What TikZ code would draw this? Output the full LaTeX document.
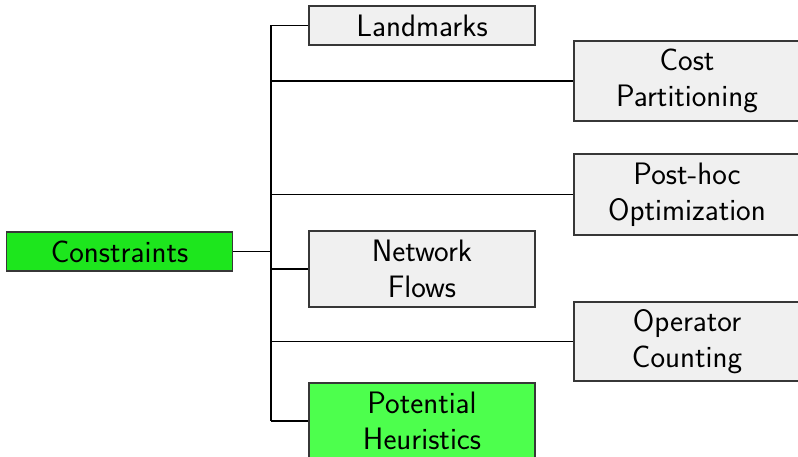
\documentclass[tikz,border=0pt]{standalone}
\usepackage{tikz}
\definecolor{rootgreen}{RGB}{29,230,29}
\definecolor{leafgreen}{RGB}{77,255,77}
\definecolor{boxgray}{RGB}{240,240,240}
\definecolor{edgegray}{RGB}{55,55,55}

\begin{document}
\begin{tikzpicture}[x = 1pt, y = -1pt,
	box/.style = {draw = edgegray, fill = boxgray, line width = 1.2pt, minimum width = 226pt, align = center, inner sep = 0pt, font = \sffamily\fontsize{31}{36}\selectfont},
	link/.style = {line width = 1.2pt, black}]
	\clip (0, 0) rectangle (798, 457);
	\useasboundingbox (0, 0) rectangle (798, 457);

	\node[box, fill = rootgreen, minimum height = 39pt] (constraints) at (119.5, 251.5) {Constraints};
	\node[box, minimum height = 39pt] (landmarks) at (422, 25.5) {Landmarks};
	\node[box, minimum height = 80pt] (cost) at (687, 81) {Cost\\Partitioning};
	\node[box, minimum height = 81pt] (posthoc) at (687, 194.5) {Post-hoc\\Optimization};
	\node[box, minimum height = 76pt] (flows) at (422, 269) {Network\\Flows};
	\node[box, minimum height = 79pt] (opcount) at (687, 341.5) {Operator\\Counting};
	\node[box, fill = leafgreen, minimum height = 76pt] (potential) at (422, 421) {Potential\\Heuristics};

	\coordinate (trunk) at (271, 251.5);
	\draw[link] (constraints) -- (trunk);
	\draw[link] (trunk |- landmarks.west) -- (trunk |- potential.west);
	\draw[link] (trunk |- landmarks.west) -- (landmarks.west);
	\draw[link] (trunk |- cost.west) -- (cost.west);
	\draw[link] (trunk |- posthoc.west) -- (posthoc.west);
	\draw[link] (trunk |- flows.west) -- (flows.west);
	\draw[link] (trunk |- opcount.west) -- (opcount.west);
	\draw[link] (trunk |- potential.west) -- (potential.west);
\end{tikzpicture}
\end{document}
